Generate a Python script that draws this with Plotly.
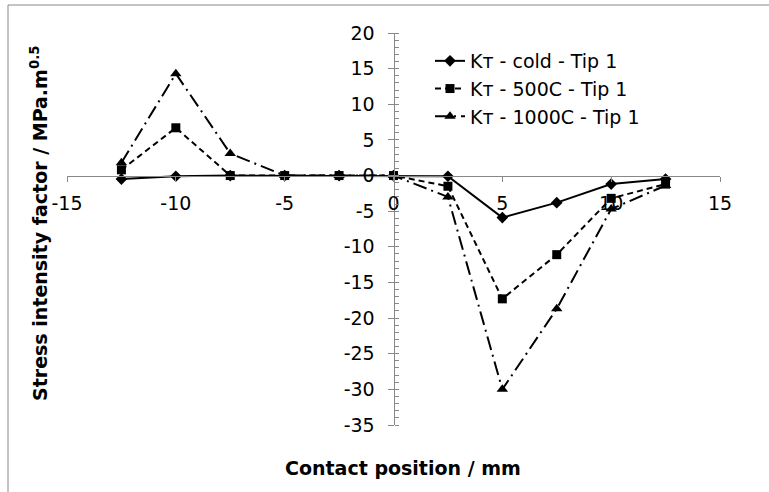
import plotly.graph_objects as go

x_pos = [-12.5, -10, -7.5, -5, -2.5, 0, 2.5, 5, 7.5, 10, 12.5]
kt_cold = [-0.5, -0.1, 0.0, 0.0, 0.0, 0.0, -0.1, -5.9, -3.8, -1.2, -0.5]
kt_500 = [0.8, 6.7, 0.0, 0.0, 0.0, 0.0, -1.5, -17.3, -11.1, -3.2, -1.2]
kt_1000 = [1.8, 14.3, 3.1, 0.0, 0.0, 0.0, -3.0, -30.0, -18.7, -4.7, -1.4]
names = ["Kт - cold - Tip 1", "Kт - 500C - Tip 1", "Kт - 1000C - Tip 1"]

x_ticks = [-15, -10, -5, 0, 5, 10, 15]
x_tick_labels = ["-15", "-10", "-5", "0", "5", "10", "15"]
y_ticks = [20, 15, 10, 5, 0, -5, -10, -15, -20, -25, -30, -35]
y_tick_labels = ["20", "15", "10", "5", "0", "-5", "-10", "-15", "-20", "-25", "-30", "-35"]

FONT = "DejaVu Sans"
L, R, T, B = 67, 49, 33, 67
PW, PH = 769 - L - R, 492 - T - B


def px(xs):
    return (xs - L) / PW


def py(ys):
    return (492 - B - ys) / PH


fig = go.Figure()
fig.add_trace(go.Scatter(x=x_pos, y=kt_cold, name=names[0], mode="lines+markers",
                         line=dict(color="black", width=2),
                         marker=dict(symbol="diamond", size=9, color="black")))
fig.add_trace(go.Scatter(x=x_pos, y=kt_500, name=names[1], mode="lines+markers",
                         line=dict(color="black", width=2, dash="6px,4px"),
                         marker=dict(symbol="square", size=9, color="black")))
fig.add_trace(go.Scatter(x=x_pos, y=kt_1000, name=names[2], mode="lines+markers",
                         line=dict(color="black", width=2, dash="14px,5px,2px,5px"),
                         marker=dict(symbol="triangle-up", size=10, color="black")))

fig.update_layout(
    width=769, height=492,
    margin=dict(l=L, r=R, t=T, b=B),
    paper_bgcolor="white", plot_bgcolor="white",
    font=dict(family=FONT, size=19, color="black"),
    showlegend=True,
    legend=dict(x=px(430), y=py(42), xanchor="left", yanchor="top",
                bgcolor="rgba(0,0,0,0)", font=dict(size=19, family=FONT),
                itemwidth=30, tracegroupgap=0),
    xaxis=dict(range=[-15, 15], tickmode="array", tickvals=x_ticks, ticktext=x_tick_labels,
               anchor="free", position=35/55, showline=True, linecolor="#888",
               linewidth=1, ticks="outside", ticklen=5, tickcolor="#888",
               ticklabelstandoff=6,
               showgrid=False, zeroline=False, tickfont=dict(size=19)),
    yaxis=dict(range=[-35, 20], tickmode="array", tickvals=y_ticks, ticktext=y_tick_labels,
               anchor="free", position=0.5, showline=True, linecolor="#888",
               linewidth=1, ticks="outside", ticklen=6, tickcolor="#888",
               ticklabelstandoff=9,
               minor=dict(tickmode="linear", tick0=0, dtick=1, ticks="inside",
                          ticklen=4, tickcolor="#888", showgrid=False),
               showgrid=False, zeroline=False, tickfont=dict(size=19)),
    shapes=[dict(type="line", xref="paper", yref="paper",
                 x0=px(8), x1=px(8), y0=py(5), y1=py(500),
                 line=dict(color="#888", width=1)),
            dict(type="line", xref="paper", yref="paper",
                 x0=px(8), x1=px(780), y0=py(5), y1=py(5),
                 line=dict(color="#888", width=1))],
    annotations=[
        dict(text="<b>Contact position / mm</b>", xref="paper", yref="paper",
             x=px(403), y=py(468), xanchor="center", yanchor="middle",
             showarrow=False, font=dict(size=19, family=FONT)),
        dict(text="<b>Stress intensity factor / MPa.m<sup>0.5</sup></b>", xref="paper", yref="paper",
             x=px(39), y=py(224), xanchor="center", yanchor="middle",
             textangle=-90, showarrow=False, font=dict(size=19, family=FONT)),
    ],
)
fig.write_html("out.html", config={"displayModeBar": False},
               post_script="document.body.style.margin='0';")
